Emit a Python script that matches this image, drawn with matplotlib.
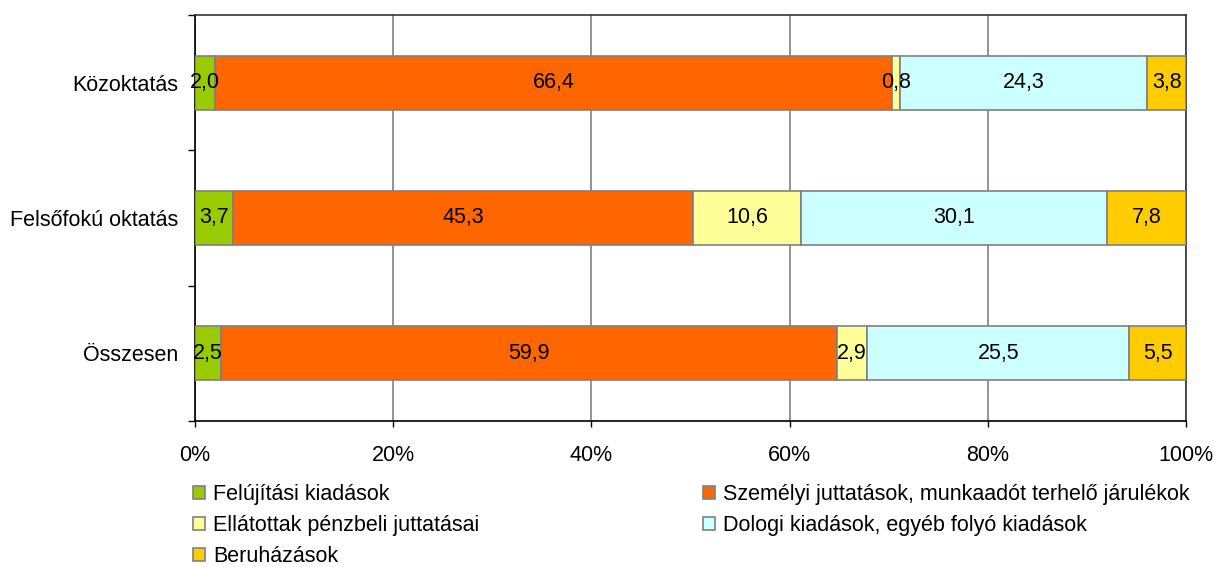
import matplotlib
matplotlib.use("Agg")
import matplotlib.pyplot as plt
import numpy as np
from matplotlib.patches import Patch

plt.rcParams['font.family'] = ['Liberation Sans', 'DejaVu Sans']

categories = ["Közoktatás", "Felsőfokú oktatás", "Összesen"]
series_names = ["Felújítási kiadások",
                "Személyi juttatások, munkaadót terhelő járulékok",
                "Ellátottak pénzbeli juttatásai",
                "Dologi kiadások, egyéb folyó kiadások",
                "Beruházások"]
felujitasi = [2.0, 3.7, 2.5]
szemelyi = [66.4, 45.3, 59.9]
ellatottak = [0.8, 10.6, 2.9]
dologi = [24.3, 30.1, 25.5]
beruhazasok = [3.8, 7.8, 5.5]
colors = ["#99CC00", "#FF6600", "#FFFF99", "#CCFFFF", "#FFCC00"]
xticklabels = ["0%", "20%", "40%", "60%", "80%", "100%"]

FS = 15.5

data = np.array([felujitasi, szemelyi, ellatottak, dologi, beruhazasok])
totals = data.sum(axis=0)
shares = data / totals * 100

fig = plt.figure(figsize=(12.14, 5.67), dpi=100)
ax = fig.add_axes([0.1606, 1 - 421 / 567, 0.977 - 0.1606, (421 - 15) / 567])

y = np.arange(len(categories))
left = np.zeros(len(categories))
handles = []
for i, name in enumerate(series_names):
    ax.barh(y, shares[i], left=left, height=0.4, color=colors[i],
            edgecolor="#808080", linewidth=1.2, zorder=3)
    for j in range(len(categories)):
        ax.text(left[j] + shares[i][j] / 2, y[j], f"{data[i][j]:.1f}".replace(".", ","),
                ha="center", va="center", fontsize=FS, color="black", zorder=4)
    left += shares[i]
    handles.append(Patch(facecolor=colors[i], edgecolor="#808080", linewidth=1.2, label=name))

ax.set_xlim(0, 100)
ax.set_ylim(len(categories) - 0.5, -0.5)
ax.set_xticks(np.linspace(0, 100, 6))
ax.set_xticklabels(xticklabels, fontsize=FS)
ax.set_yticks(y)
ax.set_yticklabels(categories, fontsize=FS)
ax.set_yticks(np.arange(-0.5, len(categories), 1), minor=True)
ax.tick_params(axis="y", which="major", length=0, pad=12)
ax.tick_params(axis="y", which="minor", length=5, width=1, color="black")
ax.tick_params(axis="x", length=4, width=1, color="black", pad=13)
ax.xaxis.grid(True, color="#808080", linewidth=1.2, zorder=0)
ax.set_axisbelow(True)
for s in ax.spines.values():
    s.set_color("#333333")
    s.set_linewidth(1.2)
ax.spines["left"].set_color("black")
ax.spines["bottom"].set_color("black")

order = [0, 2, 4, 1, 3]
fig.legend([handles[k] for k in order], [series_names[k] for k in order],
           ncol=2, loc="upper left", bbox_to_anchor=(0.159, 0.147),
           frameon=False, fontsize=FS, handlelength=0.55, handleheight=0.55,
           handletextpad=0.4, labelspacing=0.48, columnspacing=10.37,
           borderpad=0, borderaxespad=0)

fig.savefig("out.png", dpi=100)
